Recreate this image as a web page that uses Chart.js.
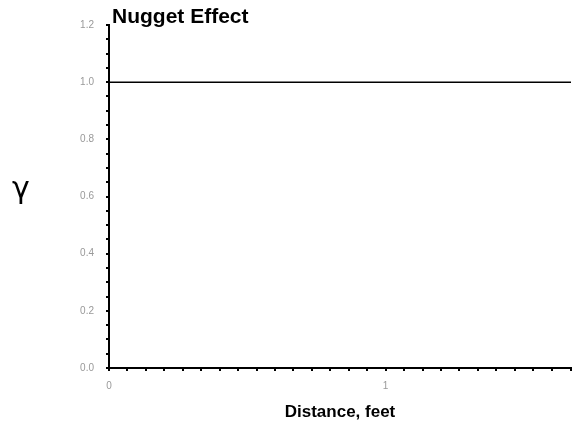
<!DOCTYPE html>
<html>
<head>
<meta charset="utf-8">
<script src="https://cdn.jsdelivr.net/npm/chart.js@4"></script>
<style>
  html, body { margin: 0; padding: 0; background: #fff; }
  #wrap { width: 572px; height: 426px; }
</style>
</head>
<body>
<div id="wrap"><canvas id="c" width="572" height="426"></canvas></div>
<script>
// nugget effect variogram: flat sill at 1.0
const distance = [0, 1.67];
const gamma = [1.0, 1.0];
const xRange = [0, 1.67];
const yRange = [0, 1.2];
const xStep = 1 / 15;
const yStep = 0.05;

const labels = {
  id: "labels",
  afterDraw(chart) {
    const ctx = chart.ctx;
    ctx.save();
    ctx.fillStyle = "#000";
    ctx.textBaseline = "middle";
    ctx.font = "bold 21px 'Liberation Sans', Arial, sans-serif";
    ctx.fillText("Nugget Effect", 112, 17);
    ctx.font = "30px 'DejaVu Sans', sans-serif";
    ctx.fillText("\u03b3", 12, 190);
    ctx.restore();
  },
};

new Chart(document.getElementById("c"), {
  type: "scatter",
  data: {
    datasets: [
      {
        data: distance.map((d, i) => ({ x: d, y: gamma[i] })),
        showLine: true,
        borderColor: "#000",
        borderWidth: 1.5,
        pointRadius: 0,
      },
    ],
  },
  options: {
    responsive: false,
    animation: false,
    // ticks.padding feeds the scale's edge padding, so keep it 0 on x and use lineHeight instead
    layout: { padding: { top: 25, right: 1, left: 0, bottom: 0 } },
    plugins: { legend: { display: false }, tooltip: { enabled: false } },
    scales: {
      x: {
        type: "linear",
        min: xRange[0],
        max: xRange[1],
        afterFit: (s) => { s.height = 58; },
        border: { color: "#000", width: 2 },
        grid: { drawOnChartArea: false, tickLength: 3, color: "#000", lineWidth: 2 },
        ticks: {
          stepSize: xStep,
          autoSkip: false,
          maxRotation: 0,
          padding: 0,
          color: "#999",
          font: { family: "'Liberation Sans', Arial, sans-serif", size: 10, lineHeight: 3.0 },
          callback: (v) => (Math.abs(v - Math.round(v)) < 1e-6 ? String(Math.round(v)) : ""),
        },
        title: {
          display: true,
          text: "Distance, feet",
          color: "#000",
          font: { family: "'Liberation Sans', Arial, sans-serif", size: 17, weight: "bold" },
          padding: { top: 4, bottom: 3 },
        },
      },
      y: {
        min: yRange[0],
        max: yRange[1],
        afterFit: (s) => { s.width = 109; },
        border: { color: "#000", width: 2 },
        grid: { drawOnChartArea: false, tickLength: 3, color: "#000", lineWidth: 2 },
        ticks: {
          stepSize: yStep,
          autoSkip: false,
          padding: 12,
          color: "#999",
          font: { family: "'Liberation Sans', Arial, sans-serif", size: 10 },
          callback: (v) => (Math.round(v * 100) % 20 === 0 ? v.toFixed(1) : ""),
        },
      },
    },
  },
  plugins: [labels],
});
</script>
</body>
</html>
